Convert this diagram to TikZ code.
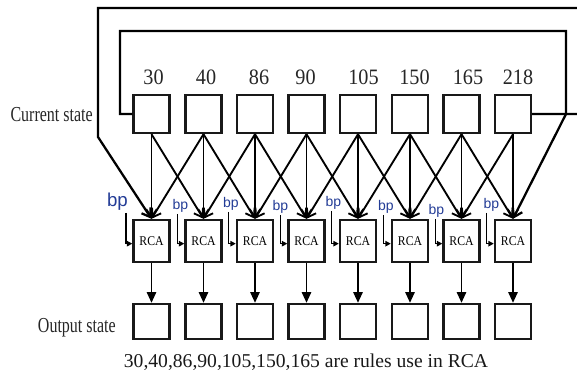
\documentclass[tikz,border=0pt]{standalone}
\usepackage{fontspec}
\setmainfont{Liberation Serif}
\newfontfamily\sidefont[FakeStretch=0.75]{Liberation Serif}
\newfontfamily\cellfont[FakeStretch=0.88]{Liberation Serif}
\newfontfamily\rulefont[FakeStretch=0.92]{Liberation Serif}
\newfontfamily\bpfont{Liberation Sans}
\definecolor{bpblue}{RGB}{35, 60, 150}
\usetikzlibrary{arrows.meta, calc}
\tikzset{
  % Plain square cell of a state row.
  state-cell/.style={
    rectangle, draw=black!90, line width=1.8pt,
    minimum width=27pt, minimum height=28.5pt,
    inner sep=0pt,
  },
  rca-cell/.style={
    state-cell, minimum height=31.5pt,
    font=\cellfont\fontsize{10}{12}\selectfont,
  },
  out-cell/.style={state-cell, minimum height=26.25pt},
  % Texts.
  rule-label/.style={font=\rulefont\fontsize{16.5}{18}\selectfont, inner sep=0pt, anchor=base, text=black!85},
  row-label/.style={font=\sidefont\fontsize{16}{18}\selectfont, inner sep=0pt, anchor=base east, text=black!85},
  bp-label/.style={font=\bpfont\fontsize{10.5}{12}\selectfont, text=bpblue, inner sep=0pt},
  % Arrows.
  flow-in/.style={-{Straight Barb[length=6pt, width=8pt]}, line width=1.4pt},
  flow-out/.style={-{Triangle[length=8pt, width=7pt]}, line width=1.2pt},
  flow-bp/.style={-{Triangle[length=4pt, width=4pt]}, line width=0.9pt},
  feedback/.style={flow-in, line width=1.7pt, line join=miter},
}

\begin{document}
\begin{tikzpicture}[x=0.75pt, y=-0.75pt]
  \useasboundingbox (0,0) rectangle (577,373);

  % One column per rule: current cell, RCA cell, output cell.
  \foreach \i/\cx/\rn/\dx in {1/151.5/30/2, 2/203.5/40/2.5, 3/255/86/4, 4/306.5/90/-1,
                              5/358/105/5.5, 6/410/150/4.5, 7/461.5/165/6.5, 8/513/218/5}{
    \node[state-cell] (cs\i) at (\cx,114) {};
    \node[rule-label] (rule\i) at (\cx+\dx,85) {\rn};
    \node[rca-cell] (rca\i) at (\cx,241) {RCA};
    \node[out-cell] (out\i) at (\cx,321.5) {};
    \draw[flow-out] (rca\i) -- (out\i);
    \draw[flow-in] (cs\i.south) -- (rca\i.north);
  }

  % Neighbour links.
  \foreach \i/\j in {1/2, 2/3, 3/4, 4/5, 5/6, 6/7, 7/8}{
    \draw[flow-in] (cs\i.south) -- (rca\j.north);
    \draw[flow-in] (cs\j.south) -- (rca\i.north);
  }

  % Wrap-around links.
  \coordinate (outerNE) at (582,8);
  \coordinate (outerSW) at (98,137);
  \coordinate (innerNW) at (120,31);
  \coordinate (innerSE) at (566,114);
  \draw[feedback] (cs8.east) -| (outerNE) -| (outerSW) -- (rca1.north);
  \draw[feedback] (cs1.west) -| (innerNW) -| (innerSE) -- (rca8.north);

  % bp inputs.
  \node[bp-label, font=\bpfont\fontsize{14}{16}\selectfont] (bp1) at (117.5,202) {bp};
  \draw[flow-bp] ($(bp1.south)+(8.5,2)$) |- ([yshift=-2pt]rca1.west);
  \foreach \i/\dx/\ly in {2/3/206, 3/2/204, 4/0/207, 5/1.5/203, 6/2/207, 7/1/211, 8/4.5/205}{
    \node[bp-label] (bp\i) at ($(rca\i.west)+(-7+\dx,\ly-241)$) {bp};
    \draw[flow-bp] ($(bp\i.south)+(-\dx,1)$) |- ([yshift=-2pt]rca\i.west);
  }

  % Row names and note.
  \node[row-label] (curlabel) at (93,122) {Current state};
  \node[row-label] (outlabel) at (116,333) {Output state};
  \node[font=\fontsize{14.7}{17}\selectfont, anchor=base, inner sep=0pt, text=black!90] (note) at (306,367)
    {30,40,86,90,105,150,165 are rules use in RCA};
\end{tikzpicture}
\end{document}
